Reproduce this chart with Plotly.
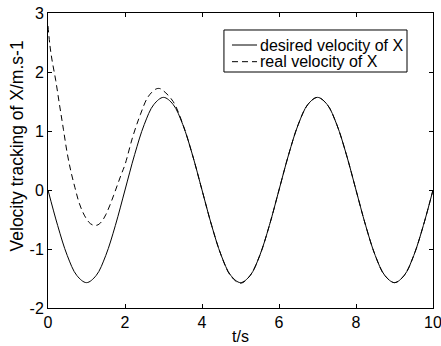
import plotly.graph_objects as go

# desired velocity of X
t_desired = [0, 0.25, 0.5, 0.75, 1.0, 1.25, 1.5, 1.75, 2.0, 2.25, 2.5, 2.75, 3.0,
             3.25, 3.5, 3.75, 4.0, 4.25, 4.5, 4.75, 5.0, 5.25, 5.5, 5.75, 6.0,
             6.25, 6.5, 6.75, 7.0, 7.25, 7.5, 7.75, 8.0, 8.25, 8.5, 8.75, 9.0,
             9.25, 9.5, 9.75, 10.0]
v_desired = [0.00, -0.60, -1.11, -1.45, -1.57, -1.45, -1.11, -0.60, 0.00, 0.60, 1.11, 1.45, 1.57,
             1.45, 1.11, 0.60, 0.00, -0.60, -1.11, -1.45, -1.57, -1.45, -1.11, -0.60, 0.00,
             0.60, 1.11, 1.45, 1.57, 1.45, 1.11, 0.60, 0.00, -0.60, -1.11, -1.45, -1.57,
             -1.45, -1.11, -0.60, 0.00]

# real velocity of X
t_real = [0, 0.05, 0.1, 0.2, 0.3, 0.4, 0.5, 0.6, 0.7, 0.8, 0.9, 1.0, 1.1, 1.2, 1.3,
          1.4, 1.5, 1.6, 1.7, 1.8, 1.9, 2.0, 2.2, 2.4, 2.6, 2.8, 2.9, 3.0, 3.25,
          3.5, 3.75, 4.0, 4.25, 4.5, 4.75, 5.0, 5.25, 5.5, 5.75, 6.0,
          6.25, 6.5, 6.75, 7.0, 7.25, 7.5, 7.75, 8.0, 8.25, 8.5, 8.75, 9.0,
          9.25, 9.5, 9.75, 10.0]
v_real = [2.78, 2.45, 2.22, 1.86, 1.44, 1.03, 0.62, 0.30, 0.04, -0.20, -0.37, -0.49, -0.57, -0.60, -0.59,
          -0.53, -0.42, -0.27, -0.10, 0.08, 0.26, 0.43, 0.90, 1.28, 1.58, 1.71, 1.72, 1.68, 1.50,
          1.12, 0.60, 0.00, -0.60, -1.11, -1.46, -1.58, -1.45, -1.11, -0.60, 0.00,
          0.60, 1.11, 1.45, 1.57, 1.45, 1.11, 0.60, 0.00, -0.60, -1.11, -1.45, -1.57,
          -1.45, -1.11, -0.60, 0.00]

x_ticks = [0, 2, 4, 6, 8, 10]
y_ticks = [-2, -1, 0, 1, 2, 3]

series_names = ["desired velocity of X", "real velocity of X"]
series_dash = ["solid", "6px,4px"]

FONT = "Arial, Liberation Sans, sans-serif"

fig = go.Figure()
fig.add_trace(go.Scatter(x=t_desired, y=v_desired, mode="lines",
                         name=series_names[0], showlegend=False,
                         line=dict(color="black", width=1, dash=series_dash[0], shape="spline")))
fig.add_trace(go.Scatter(x=t_real, y=v_real, mode="lines",
                         name=series_names[1], showlegend=False,
                         line=dict(color="black", width=1, dash=series_dash[1], shape="spline")))

axis_common = dict(showline=True, linecolor="black", linewidth=1, mirror="ticks",
                   ticks="inside", ticklen=4, tickcolor="black", tickwidth=1,
                   showgrid=False, zeroline=False, automargin=False,
                   ticklabeloverflow="allow",
                   tickfont=dict(family=FONT, size=16, color="black"))

# legend box (MATLAB style), placed in paper coordinates
box_x0, box_x1, box_y0, box_y1 = 0.457, 0.9325, 0.80, 0.9424
line_x0, line_x1 = 0.4779, 0.5429
row_y = [0.8915, 0.835]
text_x = 0.5455

shapes = [dict(type="rect", xref="paper", yref="paper", x0=box_x0, x1=box_x1,
               y0=box_y0, y1=box_y1, line=dict(color="black", width=1),
               fillcolor="white", layer="above")]
annotations = []
for name, dash, ry in zip(series_names, series_dash, row_y):
    shapes.append(dict(type="line", xref="paper", yref="paper", x0=line_x0, x1=line_x1,
                       y0=ry, y1=ry, line=dict(color="black", width=1, dash=dash),
                       layer="above"))
    annotations.append(dict(text=name, xref="paper", yref="paper", x=text_x, y=ry,
                            xanchor="left", yanchor="middle", showarrow=False,
                            font=dict(family=FONT, size=16, color="black")))

annotations.append(dict(text="Velocity tracking of X/m.s-1", textangle=-90,
                        xref="paper", yref="paper", x=-0.0795, y=0.549,
                        xanchor="center", yanchor="middle", showarrow=False,
                        font=dict(family=FONT, size=17.5, color="black")))

fig.update_layout(
    width=441, height=346,
    margin=dict(l=48, r=8, t=13, b=38),
    paper_bgcolor="white", plot_bgcolor="white",
    font=dict(family=FONT, size=16, color="black"),
    showlegend=False,
    xaxis=dict(range=[0, 10], tickvals=x_ticks, ticktext=[str(v) for v in x_ticks],
               title=dict(text="t/s", standoff=0, font=dict(family=FONT, size=16)),
               **axis_common),
    yaxis=dict(range=[-2, 3], tickvals=y_ticks, ticktext=[str(v) for v in y_ticks],
               ticklabelstandoff=0, **axis_common),
    shapes=shapes,
    annotations=annotations,
)

fig.write_html("out.html")
